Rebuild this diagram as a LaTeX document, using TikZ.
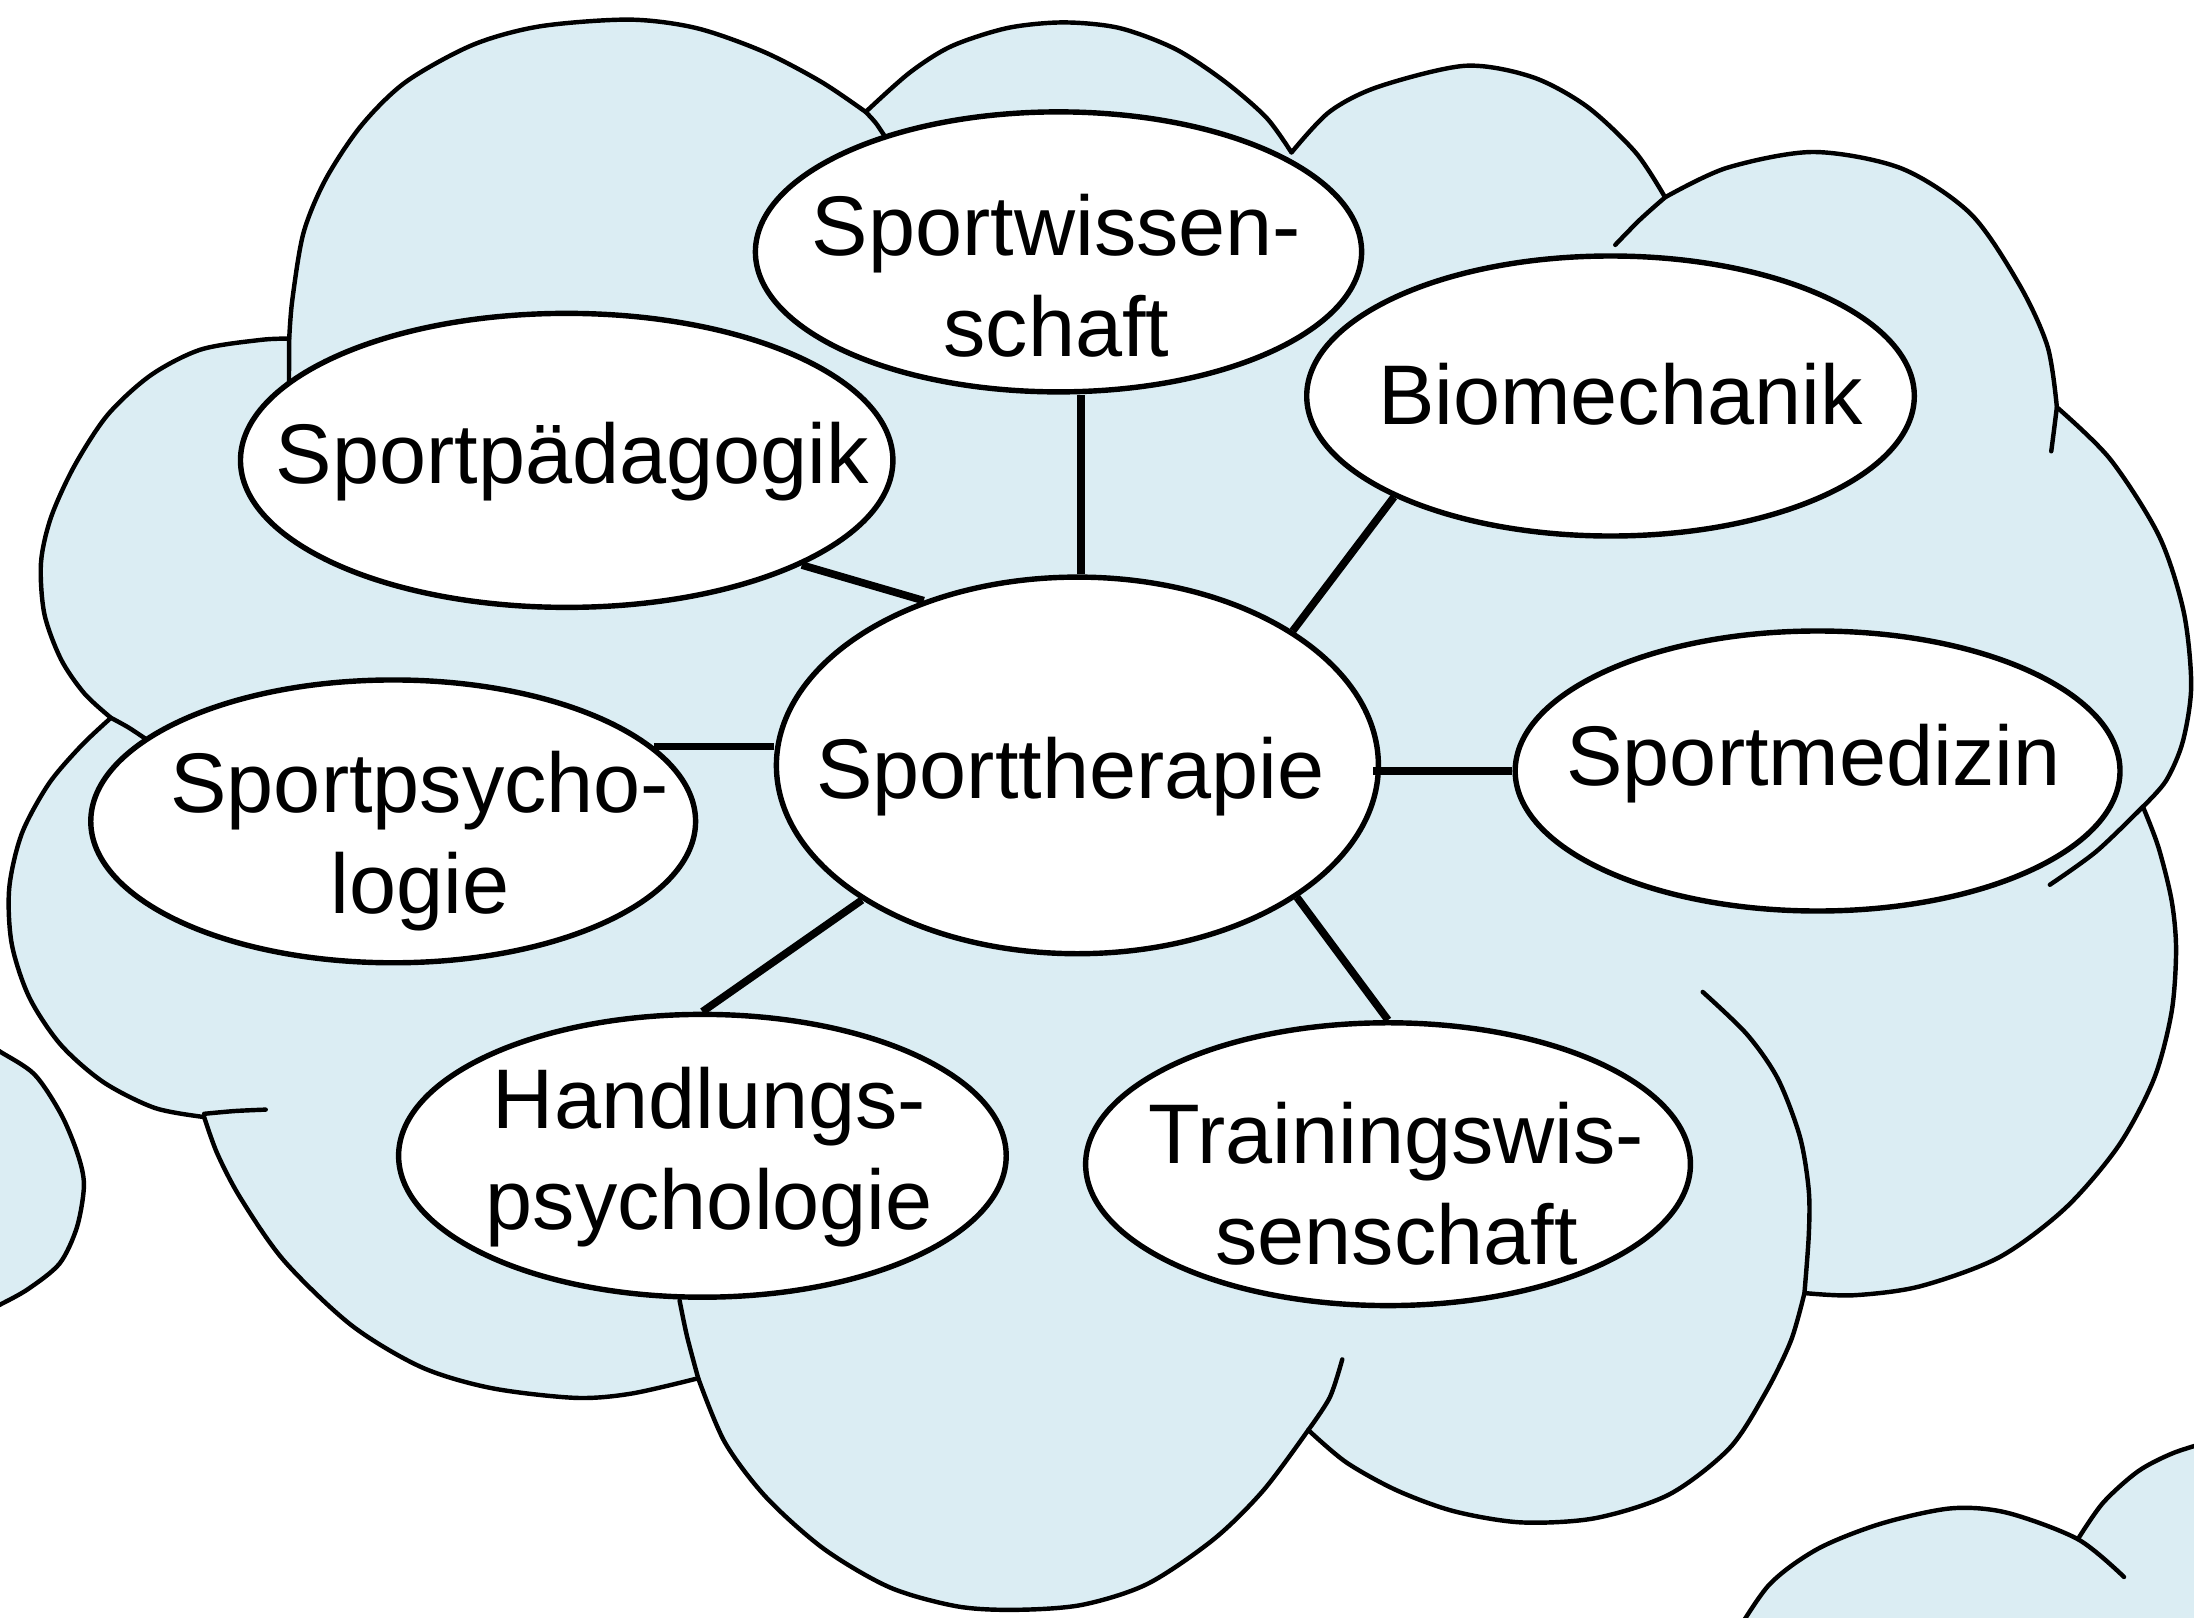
\documentclass[tikz,border=0pt]{standalone}
\usepackage{fontspec}
\setmainfont{Liberation Sans}
\usetikzlibrary{shapes.geometric}
\definecolor{cloudblue}{RGB}{219,237,243}
\newcommand\lblfont{\fontsize{17.2pt}{20.6pt}\selectfont}
\begin{document}
\begin{tikzpicture}[x=0.01cm, y=-0.01cm,
  topic/.style={ellipse, draw=black, fill=white, line width=1.1pt, inner sep=0pt},
  lbl/.style={font=\lblfont, align=center, inner sep=0pt, text=black},
  link/.style={draw=black, line width=1.55pt},
  cloudline/.style={draw=black, line width=0.9pt, line join=round, line cap=round},
  cloudfill/.style={fill=cloudblue, draw=none}]
\useasboundingbox (0,0) rectangle (1568,1156);

% left partial cloud
\path[cloudfill] (-5,751.5) -- plot[smooth] coordinates {(0,751.5) (24.6,767.8) (43.6,796.2) (55.5,824.7) (60,847) (55,877) (42.6,903) (20,921.3) (0,932.4)} -- (-5,932.4) -- cycle;
\draw[cloudline] plot[smooth] coordinates {(-8,746) (0,751.5) (24.6,767.8) (43.6,796.2) (55.5,824.7) (60,847) (55,877) (42.6,903) (20,921.3) (0,932.4) (-8,936)};

% bottom-right partial cloud
\path[cloudfill] plot[smooth] coordinates {(1236,1175) (1264,1133) (1299,1107) (1344,1089) (1394,1078) (1434,1081) (1485,1100)}
  -- plot[smooth] coordinates {(1485,1100) (1503,1074) (1528,1051.5) (1553,1038.5) (1580,1030)}
  -- (1580,1175) -- cycle;
\draw[cloudline] plot[smooth] coordinates {(1236,1175) (1264,1133) (1299,1107) (1344,1089) (1394,1078) (1434,1081) (1485,1100) (1518,1127)};
\draw[cloudline] plot[smooth] coordinates {(1485,1100) (1503,1074) (1528,1051.5) (1553,1038.5) (1580,1030)};

% main cloud
\path[cloudline, fill=cloudblue]
  plot[smooth] coordinates {(79.3,513) (60.3,495.6) (43.6,471.2) (31.7,438.7) (29.3,402.1) (36.5,369.6) (53.1,333.1) (76.9,296.5) (107.8,268.1) (143.5,249.8) (186.3,242.9) (206.7,242)}
  -- plot[smooth] coordinates {(206.7,242) (208.9,214.4) (216.9,166.4) (232.8,128) (258.3,89.6) (290.2,58.4) (338,32) (385.9,18.8) (449.7,14) (497.5,20) (545.4,36.8) (586.8,58.4) (618.7,80)}
  -- plot[smooth] coordinates {(618.7,80) (650,52) (680,33) (720,20) (760,16) (800,20) (840,35) (875,58) (905,84) (923,109)}
  -- plot[smooth] coordinates {(923,109) (950,80) (985,62) (1047,47) (1095,55) (1134,76) (1169,109) (1190,141)}
  -- plot[smooth] coordinates {(1190,141) (1234,120) (1296,108.6) (1358.8,120.3) (1408.6,153) (1443.5,204) (1463.4,247.8) (1470,291)}
  -- plot[smooth] coordinates {(1470,291) (1508,328) (1543,383) (1560.6,437) (1566,490) (1560,530) (1548,558) (1531.5,576.5)}
  -- plot[smooth] coordinates {(1531.5,576.5) (1542.5,605.2) (1552,643.5) (1555.2,678.6) (1552,723.2) (1539.4,771) (1514,819) (1476,863.5) (1428.7,898.6) (1371.8,919.4) (1324.4,925.7) (1289.6,924.1)}
  -- plot[smooth] coordinates {(1289.6,924.1) (1280,958) (1262,995) (1236,1035) (1193,1068) (1140,1085) (1087,1088) (1039,1080) (998,1065) (962,1045) (935,1022)}
  -- plot[smooth] coordinates {(935,1022) (903,1065) (867.5,1100) (820,1132) (773,1147) (725.5,1150.5) (684,1148) (636,1134.5) (588.9,1107) (547.5,1070) (518,1030.7) (499,985)}
  -- plot[smooth] coordinates {(499,985) (451,996) (411,999) (351,992) (301,977) (251,947) (203,901) (172,856.4) (155.4,824.7) (145.9,798.3)}
  -- plot[smooth] coordinates {(145.9,798.3) (110.6,791.8) (73.8,773.3) (43.2,746.4) (20.9,712.7) (8.4,674.6) (6.6,634.7) (15.6,595.7) (34.8,560.2) (58,533) (79.3,513)}
  -- cycle;

% inner arcs of the cloud
\draw[cloudline] plot[smooth] coordinates {(206.7,242) (206.6,258) (206.5,280)};
\draw[cloudline] plot[smooth] coordinates {(618.7,80) (626,88) (634,100)};
\draw[cloudline] plot[smooth] coordinates {(1190,141) (1172,157) (1154.4,175)};
\draw[cloudline] plot[smooth] coordinates {(1470,291) (1468,307) (1466,322.5)};
\draw[cloudline] plot[smooth] coordinates {(1531.5,576.5) (1498.3,608.4) (1465,632.3)};
\draw[cloudline] plot[smooth] coordinates {(1216.9,708.9) (1248.5,739.2) (1270.6,771) (1286.4,812.5) (1292.7,850.8) (1292.7,882.7) (1289.6,924.1)};
\draw[cloudline] plot[smooth] coordinates {(959.3,971.5) (950.4,998.6) (935,1022)};
\draw[cloudline] plot[smooth] coordinates {(499,985) (491,955) (485.7,929.5)};
\draw[cloudline] plot[smooth] coordinates {(145.9,796) (168,794) (189.9,793)};
\draw[cloudline] plot[smooth] coordinates {(79.3,513) (92,520) (105.4,528.9)};

% topic ellipses
\node[topic, minimum width=4.33cm, minimum height=2.0cm] (wiss) at (756.5,180) {};
\node[topic, minimum width=4.66cm, minimum height=2.1cm] (paed) at (405,329) {};
\node[topic, minimum width=4.34cm, minimum height=2.0cm] (bio) at (1151,283) {};
\node[topic, minimum width=4.30cm, minimum height=2.69cm] (thera) at (770,547) {};
\node[topic, minimum width=4.32cm, minimum height=2.0cm] (med) at (1299,551) {};
\node[topic, minimum width=4.32cm, minimum height=2.02cm] (psych) at (281,587) {};
\node[topic, minimum width=4.34cm, minimum height=2.02cm] (handl) at (502,826) {};
\node[topic, minimum width=4.32cm, minimum height=2.02cm] (train) at (992,832) {};

% labels
\node[lbl] (wisst) at (755,197) {Sportwissen-\\schaft};
\node[lbl] (paedt) at (409,330) {Sportpädagogik};
\node[lbl] (biot) at (1158,282) {Biomechanik};
\node[lbl] (therat) at (765,555) {Sporttherapie};
\node[lbl] (medt) at (1296,546) {Sportmedizin};
\node[lbl] (psycht) at (300,601) {Sportpsycho-\\logie};
\node[lbl] (handlt) at (507,827) {Handlungs-\\psychologie};
\node[lbl] (traint) at (998,846) {Trainingswis-\\senschaft};

% connectors
\draw[link] (thera.89) -- (thera.89 |- wiss.south);
\draw[link] (paed.-24.4) -- (thera.133.7);
\draw[link] (bio.205.7) -- (thera.32);
\draw[link] (psych.16) -- (psych.16 -| thera.west);
\draw[link] (med.west) -- ([xshift=-0.06cm]med.west -| thera.east);
\draw[link] (handl.north) -- (thera.212.7);
\draw[link] (train.north) -- (thera.-31.5);
\end{tikzpicture}
\end{document}
